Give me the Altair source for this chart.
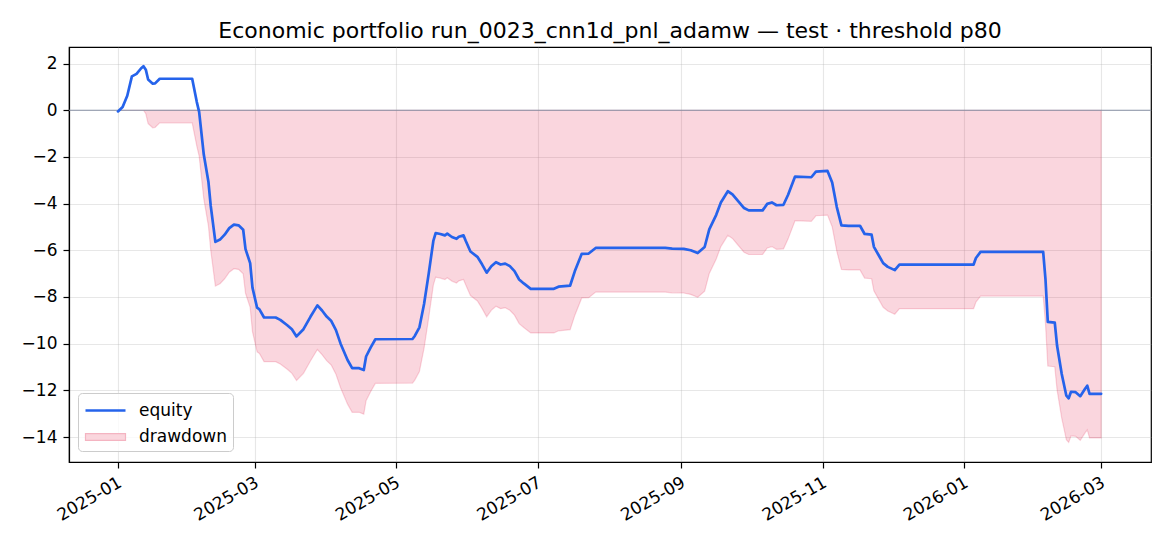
import altair as alt
import pandas as pd

dates = [
    "2025-01-01", "2025-01-03", "2025-01-05", "2025-01-07", "2025-01-09", "2025-01-11",
    "2025-01-12", "2025-01-13", "2025-01-14", "2025-01-16", "2025-01-17", "2025-01-19",
    "2025-02-02", "2025-02-04", "2025-02-05", "2025-02-07", "2025-02-09", "2025-02-10",
    "2025-02-12", "2025-02-14", "2025-02-16", "2025-02-18", "2025-02-20", "2025-02-22",
    "2025-02-24", "2025-02-25", "2025-02-27", "2025-02-28", "2025-03-02", "2025-03-03",
    "2025-03-05", "2025-03-10", "2025-03-12", "2025-03-15", "2025-03-17", "2025-03-19",
    "2025-03-22", "2025-03-25", "2025-03-28", "2025-03-30", "2025-04-01", "2025-04-03",
    "2025-04-05", "2025-04-07", "2025-04-10", "2025-04-12", "2025-04-15", "2025-04-17",
    "2025-04-18", "2025-04-20", "2025-04-22", "2025-05-08", "2025-05-09", "2025-05-11",
    "2025-05-13", "2025-05-15", "2025-05-17", "2025-05-18", "2025-05-20", "2025-05-22",
    "2025-05-23", "2025-05-25", "2025-05-27", "2025-05-28", "2025-05-30", "2025-05-31",
    "2025-06-02", "2025-06-05", "2025-06-07", "2025-06-09", "2025-06-11", "2025-06-13",
    "2025-06-15", "2025-06-17", "2025-06-19", "2025-06-21", "2025-06-23", "2025-06-25",
    "2025-06-28", "2025-07-08", "2025-07-10", "2025-07-15", "2025-07-17", "2025-07-20",
    "2025-07-23", "2025-07-26", "2025-08-25", "2025-08-28", "2025-09-02", "2025-09-05",
    "2025-09-08", "2025-09-11", "2025-09-13", "2025-09-16", "2025-09-18", "2025-09-21",
    "2025-09-23", "2025-09-25", "2025-09-28", "2025-09-30", "2025-10-06", "2025-10-08",
    "2025-10-10", "2025-10-12", "2025-10-15", "2025-10-17", "2025-10-20", "2025-10-27",
    "2025-10-29", "2025-11-03", "2025-11-05", "2025-11-07", "2025-11-09", "2025-11-12",
    "2025-11-17", "2025-11-19", "2025-11-22", "2025-11-23", "2025-11-25", "2025-11-27",
    "2025-11-29", "2025-12-02", "2025-12-04", "2026-01-05", "2026-01-06", "2026-01-08",
    "2026-02-04", "2026-02-05", "2026-02-06", "2026-02-09", "2026-02-10", "2026-02-12",
    "2026-02-14", "2026-02-15", "2026-02-16", "2026-02-18", "2026-02-20", "2026-02-22",
    "2026-02-23", "2026-02-24", "2026-03-01",
]
equity = [
    -0.05, 0.14, 0.62, 1.45, 1.56, 1.80,
    1.89, 1.74, 1.32, 1.14, 1.15, 1.35,
    1.35, 0.35, -0.07, -1.90, -3.06, -4.10,
    -5.64, -5.54, -5.33, -5.05, -4.90, -4.93,
    -5.12, -5.95, -6.55, -7.60, -8.46, -8.53,
    -8.88, -8.88, -8.98, -9.21, -9.38, -9.69,
    -9.38, -8.85, -8.36, -8.58, -8.84, -9.03,
    -9.42, -10.00, -10.70, -11.05, -11.05, -11.13,
    -10.55, -10.16, -9.81, -9.80, -9.67, -9.30,
    -8.30, -7.00, -5.60, -5.26, -5.30, -5.36,
    -5.29, -5.43, -5.51, -5.42, -5.36, -5.60,
    -6.05, -6.28, -6.60, -6.96, -6.68, -6.51,
    -6.61, -6.57, -6.68, -6.89, -7.25, -7.42,
    -7.65, -7.65, -7.56, -7.51, -6.90, -6.15,
    -6.14, -5.90, -5.90, -5.93, -5.94, -6.00,
    -6.12, -5.86, -5.10, -4.48, -3.95, -3.47,
    -3.60, -3.84, -4.19, -4.29, -4.29, -4.01,
    -3.95, -4.07, -4.05, -3.62, -2.84, -2.87,
    -2.63, -2.60, -3.10, -4.15, -4.93, -4.95,
    -4.95, -5.30, -5.33, -5.85, -6.20, -6.55,
    -6.71, -6.85, -6.61, -6.61, -6.33, -6.07,
    -6.07, -7.25, -9.07, -9.10, -10.09, -11.30,
    -12.23, -12.34, -12.06, -12.08, -12.25, -11.94,
    -11.80, -12.15, -12.15,
]
series_names = ["equity", "drawdown"]
y_ticks = [-14, -12, -10, -8, -6, -4, -2, 0, 2]
x_tick_months = [(2025, 1), (2025, 3), (2025, 5), (2025, 7), (2025, 9),
                 (2025, 11), (2026, 1), (2026, 3)]
title_text = "Economic portfolio run_0023_cnn1d_pnl_adamw \u2014 test \u00b7 threshold p80"

EQ_COLOR = "#2563eb"
DD_COLOR = "#e11d48"
FONT = "DejaVu Sans"

df = pd.DataFrame({"date": dates, "equity": equity})
zero_df = pd.DataFrame({"zero": [0]})
legend_df = pd.DataFrame({"series": series_names})

x_enc = alt.X(
    "date:T",
    title=None,
    scale=alt.Scale(
        type="utc",
        domain=[
            alt.DateTime(year=2024, month=12, date=10, hours=21, utc=True),
            alt.DateTime(year=2026, month=3, date=22, hours=12, utc=True),
        ],
    ),
    axis=alt.Axis(
        values=[alt.DateTime(year=y, month=m, date=1, utc=True) for y, m in x_tick_months],
        format="%Y-%m",
        labelAngle=330,
        labelAlign="right",
        labelBaseline="top",
        labelOffset=-2,
        grid=True,
    ),
)
y_scale = alt.Scale(domain=[-15.07, 2.71], nice=False, zero=False)
y_axis = alt.Axis(values=y_ticks, grid=True, format="d")

legend = alt.Legend(
    title=None,
    orient="none",
    legendX=9,
    legendY=346,
    labelFont=FONT,
    labelFontSize=17,
    labelColor="black",
    symbolSize=400,
    symbolOpacity=1,
    labelOffset=32,
    rowPadding=7,
    padding=6,
    fillColor="rgba(255,255,255,0.8)",
    strokeColor="#cccccc",
    cornerRadius=4,
)

base = alt.Chart(df)

area = (
    base.transform_window(
        cummax="max(equity)", frame=[None, 0], sort=[alt.SortField("date")]
    )
    .transform_calculate(dd="datum.equity - datum.cummax")
    .mark_area(color=DD_COLOR, fillOpacity=0.18, stroke=DD_COLOR,
               strokeOpacity=0.18, strokeWidth=1.2)
    .encode(
        x=x_enc,
        y=alt.Y("dd:Q", scale=y_scale, axis=y_axis, title=None),
        y2=alt.datum(0),
    )
)

zero_rule = alt.Chart(zero_df).mark_rule(color="#8892a6", strokeWidth=1.1).encode(
    y=alt.Y("zero:Q", scale=y_scale, axis=y_axis, title=None)
)

line = base.mark_line(
    color=EQ_COLOR, strokeWidth=2.7, strokeJoin="round", strokeCap="round"
).encode(
    x=x_enc,
    y=alt.Y("equity:Q", scale=y_scale, axis=y_axis, title=None),
)

# legend keys: a line for equity, a filled patch for drawdown (no marks drawn)
legend_layer = (
    alt.Chart(legend_df)
    .transform_filter("false")
    .mark_point(filled=True, opacity=1)
    .encode(
        shape=alt.Shape("series:N", legend=legend, scale=alt.Scale(
            domain=series_names,
            range=["M-1,0L3,0", "M-1,-0.33L3,-0.33L3,0.33L-1,0.33Z"])),
        fill=alt.Fill("series:N", legend=legend, scale=alt.Scale(
            domain=series_names, range=["transparent", "#fad6dd"])),
        stroke=alt.Stroke("series:N", legend=legend, scale=alt.Scale(
            domain=series_names, range=[EQ_COLOR, "#f4b4c1"])),
        strokeWidth=alt.StrokeWidth("series:N", legend=legend, scale=alt.Scale(
            type="ordinal", domain=series_names, range=[2.7, 1.2])),
    )
)

chart = (
    alt.layer(area, zero_rule, line, legend_layer)
    .properties(
        width=1082,
        height=415,
        autosize=alt.AutoSizeParams(type="none"),
        padding={"left": 61, "top": 39, "right": 11, "bottom": 76},
        title=alt.TitleParams(
            text=title_text,
            font=FONT,
            fontSize=22,
            fontWeight="normal",
            color="black",
            anchor="middle",
            offset=4,
        ),
    )
    .configure(background="white")
    .configure_view(stroke="black", strokeWidth=1.2)
    .configure_axis(
        labelFont=FONT,
        labelFontSize=17,
        labelColor="black",
        domainColor="black",
        domainWidth=1.2,
        tickColor="black",
        tickWidth=1.2,
        tickSize=6,
        labelPadding=6,
        gridColor="#b0b0b0",
        gridOpacity=0.3,
        gridWidth=1.1,
    )
)

chart.save("out.html", embed_options={"renderer": "svg", "actions": False})
